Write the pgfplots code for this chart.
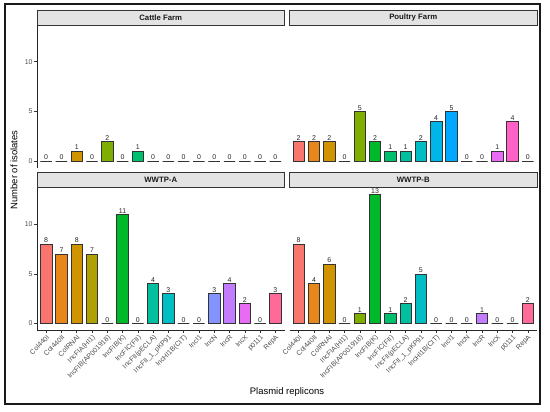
\documentclass[border=0pt]{standalone}
\usepackage{pgfplots}
\pgfplotsset{compat=1.18}
\usepackage{fontspec}
\setmainfont{Liberation Sans}
\definecolor{c1}{HTML}{F8766D}
\definecolor{c2}{HTML}{E7861B}
\definecolor{c3}{HTML}{CF9400}
\definecolor{c4}{HTML}{AFA100}
\definecolor{c5}{HTML}{7FAD00}
\definecolor{c6}{HTML}{00B92A}
\definecolor{c7}{HTML}{00BF6F}
\definecolor{c8}{HTML}{00C0A0}
\definecolor{c9}{HTML}{00BEC4}
\definecolor{c10}{HTML}{00B5E8}
\definecolor{c11}{HTML}{00A8FF}
\definecolor{c12}{HTML}{8494FF}
\definecolor{c13}{HTML}{C27DFF}
\definecolor{c14}{HTML}{E76BF3}
\definecolor{c15}{HTML}{FF61C9}
\definecolor{c16}{HTML}{FF6A98}
\definecolor{barline}{HTML}{333333}
\definecolor{tickc}{HTML}{4D4D4D}
\definecolor{stripfill}{HTML}{E3E3E3}
\newcommand\bb[2]{\addplot[fill=c#1] coordinates {(#1,#2)};}
\newcommand\strip[1]{%
  \draw[draw=barline, line width=0.8bp, fill=stripfill] ([yshift=0.4bp]rel axis cs:0,1) rectangle ([yshift=15.5bp]rel axis cs:1,1);
  \node[font=\bfseries\fontsize{7.8}{9}\selectfont, text=black!90] at ([yshift=7.9bp]rel axis cs:0.5,1) {#1};}
\pgfplotsset{
  panel/.style={
    scale only axis, width=247.5bp, height=142bp,
    xmin=0.4, xmax=16.6, ymin=-0.65, ymax=13.65,
    clip=false,
    ytick={0,5,10},
    xtick={1,...,16},
    /pgf/number format/assume math mode=true,
    tick align=outside,
    major tick length=2.75bp,
    tick style={color=barline, line width=0.5bp},
    axis line style={-, color=black!85, line width=0.6bp},
    ticklabel style={font=\fontsize{7}{8}\selectfont, text=tickc},
    yticklabel style={inner sep=1.5bp},
    xticklabel style={rotate=45, anchor=north east, inner sep=1bp},
    xticklabels={Col440I,Col440II,ColRNAI,IncFIA(HI1),IncFIB(AP001918),IncFIB(K),IncFIC(FII),IncFII(pECLA),IncFII\_1\_pKP91,IncHI1B(CIT),IncI1,IncN,IncR,IncX,p0111,RepA},
    ybar, bar width=0.75, bar shift=0pt,
    every axis plot/.append style={draw=barline, line width=0.7bp},
    nodes near coords,
    every node near coord/.append style={font=\fontsize{7}{8}\selectfont, text=black!85, inner sep=0.8bp, anchor=south},
  },
}
\begin{document}
\begin{tikzpicture}[x=1bp,y=1bp]
\path (0,0) rectangle (550,411);
\draw[line width=1.6bp, color=black!90] (5,7) rectangle (540,407);
% Cattle Farm
\begin{axis}[panel, at={(37bp,243.5bp)}, anchor=south west, hide x axis, axis y line*=left]
\bb{1}{0}\bb{2}{0}\bb{3}{1}\bb{4}{0}\bb{5}{2}\bb{6}{0}\bb{7}{1}\bb{8}{0}
\bb{9}{0}\bb{10}{0}\bb{11}{0}\bb{12}{0}\bb{13}{0}\bb{14}{0}\bb{15}{0}\bb{16}{0}
\strip{Cattle Farm}
\end{axis}
% Poultry Farm
\begin{axis}[panel, at={(289.5bp,243.5bp)}, anchor=south west, hide x axis, hide y axis]
\bb{1}{2}\bb{2}{2}\bb{3}{2}\bb{4}{0}\bb{5}{5}\bb{6}{2}\bb{7}{1}\bb{8}{1}
\bb{9}{2}\bb{10}{4}\bb{11}{5}\bb{12}{0}\bb{13}{0}\bb{14}{1}\bb{15}{4}\bb{16}{0}
\strip{Poultry Farm}
\end{axis}
% WWTP-A
\begin{axis}[panel, at={(37bp,81bp)}, anchor=south west, axis x line*=bottom, axis y line*=left]
\bb{1}{8}\bb{2}{7}\bb{3}{8}\bb{4}{7}\bb{5}{0}\bb{6}{11}\bb{7}{0}\bb{8}{4}
\bb{9}{3}\bb{10}{0}\bb{11}{0}\bb{12}{3}\bb{13}{4}\bb{14}{2}\bb{15}{0}\bb{16}{3}
\strip{WWTP-A}
\end{axis}
% WWTP-B
\begin{axis}[panel, at={(289.5bp,81bp)}, anchor=south west, axis x line*=bottom, hide y axis]
\bb{1}{8}\bb{2}{4}\bb{3}{6}\bb{4}{0}\bb{5}{1}\bb{6}{13}\bb{7}{1}\bb{8}{2}
\bb{9}{5}\bb{10}{0}\bb{11}{0}\bb{12}{0}\bb{13}{1}\bb{14}{0}\bb{15}{0}\bb{16}{2}
\strip{WWTP-B}
\end{axis}
\node[rotate=90, font=\fontsize{9.5}{11}\selectfont] at (14bp,241bp) {Number of isolates};
\node[font=\fontsize{9.5}{11}\selectfont] at (287bp,19bp) {Plasmid replicons};
\end{tikzpicture}
\end{document}
